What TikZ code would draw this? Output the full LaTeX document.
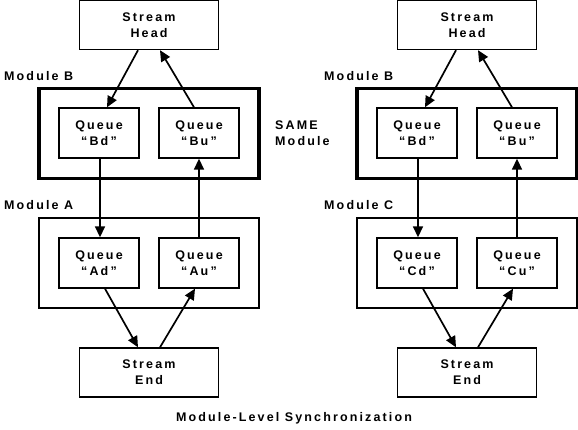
\documentclass[tikz,border=0pt]{standalone}
\usepackage{fontspec}
\setmainfont[LetterSpace=17]{Liberation Sans}
\usetikzlibrary{arrows.meta}
\begin{document}
\begin{tikzpicture}[x=1pt,y=-1pt,
  lbl/.style={font=\bfseries\fontsize{12.5}{16}\selectfont},
  box/.style={draw,line width=1.4pt,align=center,inner sep=0pt,lbl},
  strm/.style={box,minimum width=139pt,minimum height=49pt},
  queue/.style={box,minimum width=80pt,minimum height=50pt},
  modthin/.style={draw,line width=1.4pt,minimum width=220pt,minimum height=90pt,inner sep=0pt},
  modthick/.style={draw,line width=3.6pt,minimum width=220pt,minimum height=90pt,inner sep=0pt},
  txt/.style={lbl,inner sep=0pt,anchor=base west},
  arr/.style={line width=1.7pt,-{Triangle[length=11pt,width=10pt]}}]
\useasboundingbox (0,0) rectangle (578,430);
% ---------- left ----------
\node[modthick] (mbL) at (149,133.5) {};
\node[modthin]  (maL) at (149,263) {};
\node[strm] (headL) at (149,25) {Stream\\Head};
\node[strm] (endL)  at (149,372.5) {Stream\\End};
\node[queue] (bdL) at (99,133) {Queue\\“Bd”};
\node[queue] (buL) at (199,133) {Queue\\“Bu”};
\node[queue] (adL) at (99,263) {Queue\\“Ad”};
\node[queue] (auL) at (199,263) {Queue\\“Au”};
\node[txt] (lmbL) at (4,80.5) {Module B};
\node[txt] (lmaL) at (4,210) {Module A};
% ---------- right ----------
\node[modthick] (mbR) at (467,133.5) {};
\node[modthin]  (mcR) at (467,263) {};
\node[strm] (headR) at (467,25) {Stream\\Head};
\node[strm] (endR)  at (467,372.5) {Stream\\End};
\node[queue] (bdR) at (417,133) {Queue\\“Bd”};
\node[queue] (buR) at (517,133) {Queue\\“Bu”};
\node[queue] (cdR) at (417,263) {Queue\\“Cd”};
\node[queue] (cuR) at (517,263) {Queue\\“Cu”};
\node[txt] (lmbR) at (324,80.5) {Module B};
\node[txt] (lmcR) at (324,210) {Module C};
% ---------- middle ----------
\node[txt,align=left,anchor=north west] (same) at (275,121) {SAME\\Module};
\node[lbl,inner sep=0pt,anchor=base] (title) at (294,421) {Module-Level Synchronization};
% ---------- arrows left ----------
\draw[arr] ([xshift=-11pt]headL.south) -- ([xshift=8pt]bdL.north);
\draw[arr] ([xshift=-5pt]buL.north) -- ([xshift=11pt]headL.north |- headL.south);
\draw[arr] ([xshift=1pt]bdL.south) -- ([xshift=1pt]adL.north);
\draw[arr] ([xshift=0pt]auL.north) -- ([xshift=0pt]buL.south);
\draw[arr] ([xshift=6pt]adL.south) -- ([xshift=-11pt]endL.north);
\draw[arr] ([xshift=11pt]endL.north) -- ([xshift=-4pt]auL.south);
% ---------- arrows right ----------
\draw[arr] ([xshift=-11pt]headR.south) -- ([xshift=8pt]bdR.north);
\draw[arr] ([xshift=-5pt]buR.north) -- ([xshift=11pt]headR.north |- headR.south);
\draw[arr] ([xshift=1pt]bdR.south) -- ([xshift=1pt]cdR.north);
\draw[arr] ([xshift=0pt]cuR.north) -- ([xshift=0pt]buR.south);
\draw[arr] ([xshift=6pt]cdR.south) -- ([xshift=-11pt]endR.north);
\draw[arr] ([xshift=11pt]endR.north) -- ([xshift=-4pt]cuR.south);
\end{tikzpicture}
\end{document}
